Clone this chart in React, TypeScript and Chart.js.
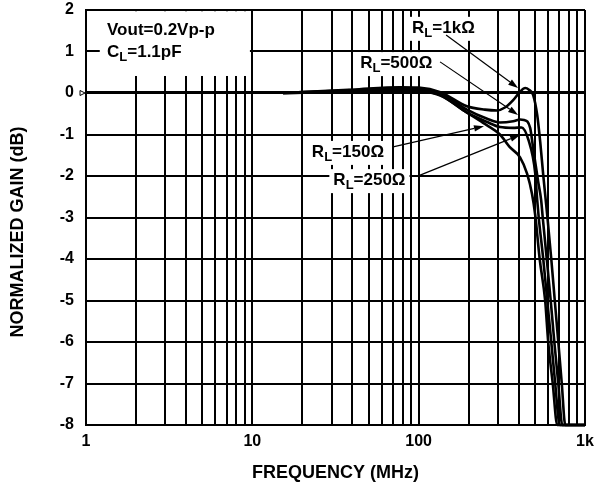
import { useEffect, useRef } from 'react';
import { Chart, registerables } from 'chart.js';

Chart.register(...registerables);

// ---------- data ----------
const xTickValues = [1, 2, 3, 4, 5, 6, 7, 8, 9, 10, 20, 30, 40, 50, 60, 70, 80, 90, 100, 200, 300, 400, 500, 600, 700, 800, 900, 1000];
const xTickLabelValues = [1, 10, 100, 1000];
const xTickLabelTexts = ['1', '10', '100', '1k'];
const yTickValues = [-8, -7, -6, -5, -4, -3, -2, -1, 0, 1, 2];

const freq1k = [15.3, 20, 40, 77, 100, 135, 195, 250, 296, 330, 370, 407, 437, 460, 488, 516, 538, 561, 593, 627, 658, 691, 725, 761, 1000];
const gain1k = [0, 0.02, 0.08, 0.14, 0.13, 0.02, -0.32, -0.40, -0.42, -0.35, -0.17, 0.03, 0.12, 0.08, -0.05, -0.53, -1.18, -1.98, -2.95, -4, -5, -6, -7, -8, -8];

const freq500 = [15.3, 20, 40, 77, 100, 135, 195, 258, 308, 370, 407, 430, 468, 488, 523, 545, 557, 589, 622, 654, 691, 730, 1000];
const gain500 = [0, 0.02, 0.07, 0.12, 0.10, 0.0, -0.40, -0.62, -0.71, -0.68, -0.64, -0.65, -0.84, -1.33, -2.14, -2.58, -3, -4, -5, -6, -7, -8, -8];

const freq250 = [15.3, 20, 40, 77, 100, 135, 195, 258, 308, 370, 415, 457, 502, 516, 527, 561, 593, 627, 662, 705, 1000];
const gain250 = [0, 0.01, 0.05, 0.08, 0.06, -0.05, -0.47, -0.70, -0.82, -0.84, -0.83, -1.13, -1.93, -2.58, -3, -4, -5, -6, -7, -8, -8];

const freq150 = [15.3, 20, 40, 77, 100, 135, 195, 244, 308, 352, 407, 449, 480, 502, 534, 576, 601, 640, 681, 1000];
const gain150 = [0, 0.01, 0.05, 0.07, 0.05, -0.06, -0.47, -0.72, -1.0, -1.30, -1.55, -1.95, -2.43, -2.94, -4, -5, -6, -7, -8, -8];

const seriesNames = ['RL=1kΩ', 'RL=500Ω', 'RL=250Ω', 'RL=150Ω'];

const xTitle = 'FREQUENCY (MHz)';
const yTitle = 'NORMALIZED GAIN (dB)';
const yTitleCenterDb = -3.35; // title is set a little below the middle of the axis

// annotation text (anchor = left/baseline in data units)
const noteTexts = [
  { pre: 'R', sub: 'L', post: '=1kΩ', f: 91.3, db: 1.45 },
  { pre: 'R', sub: 'L', post: '=500Ω', f: 44.5, db: 0.6 },
  { pre: 'R', sub: 'L', post: '=150Ω', f: 22.8, db: -1.54 },
  { pre: 'R', sub: 'L', post: '=250Ω', f: 30.7, db: -2.22 },
];
const infoLines = [
  { pre: 'Vout=0.2Vp-p', sub: '', post: '', f: 1.338, db: 1.4 },
  { pre: 'C', sub: 'L', post: '=1.1pF', f: 1.338, db: 0.87 },
];
const infoBox = { f0: 1.21, f1: 9.67, db0: 1.97, db1: 0.41 };
const arrowFrom = [[146.2, 1.4], [134.5, 0.75], [70.2, -1.3], [102, -1.98]];
const arrowTo = [[396, 0.12], [396, -0.53], [247, -0.8], [407, -1.01]];

const FONT = '"Liberation Sans", Arial, Helvetica, sans-serif';

function toPoints(fs: number[], gs: number[]) {
  return fs.map((f, i) => ({ x: f, y: gs[i] }));
}

function drawSubText(ctx: CanvasRenderingContext2D, pre: string, sub: string, post: string, x: number, b: number) {
  ctx.font = `bold 17px ${FONT}`;
  ctx.fillText(pre, x, b);
  let w = ctx.measureText(pre).width;
  if (sub) {
    ctx.font = `bold 13px ${FONT}`;
    ctx.fillText(sub, x + w, b + 4);
    w += ctx.measureText(sub).width;
  }
  if (post) {
    ctx.font = `bold 17px ${FONT}`;
    ctx.fillText(post, x + w, b);
    w += ctx.measureText(post).width;
  }
  return w;
}

function measureSubText(ctx: CanvasRenderingContext2D, pre: string, sub: string, post: string) {
  ctx.font = `bold 17px ${FONT}`;
  let w = ctx.measureText(pre).width + ctx.measureText(post).width;
  ctx.font = `bold 13px ${FONT}`;
  w += ctx.measureText(sub).width;
  return w;
}

const notesPlugin = {
  id: 'notes',
  afterDatasetsDraw(chart: any) {
    const { ctx } = chart;
    const x = chart.scales.x;
    const y = chart.scales.y;
    ctx.save();
    ctx.textAlign = 'left';
    ctx.textBaseline = 'alphabetic';

    // info box
    const bx0 = x.getPixelForValue(infoBox.f0);
    const bx1 = x.getPixelForValue(infoBox.f1);
    const by0 = y.getPixelForValue(infoBox.db0);
    const by1 = y.getPixelForValue(infoBox.db1);
    ctx.fillStyle = '#fff';
    ctx.fillRect(bx0, by0, bx1 - bx0, by1 - by0);
    ctx.fillStyle = '#000';
    infoLines.forEach((n) => {
      drawSubText(ctx, n.pre, n.sub, n.post, x.getPixelForValue(n.f), y.getPixelForValue(n.db));
    });

    // RL labels
    noteTexts.forEach((n) => {
      const px = x.getPixelForValue(n.f);
      const pb = y.getPixelForValue(n.db);
      const w = measureSubText(ctx, n.pre, n.sub, n.post);
      ctx.fillStyle = '#fff';
      ctx.fillRect(px - 4, pb - 16, w + 8, 24);
      ctx.fillStyle = '#000';
      drawSubText(ctx, n.pre, n.sub, n.post, px, pb);
    });

    // arrows
    ctx.strokeStyle = '#000';
    ctx.fillStyle = '#000';
    ctx.lineWidth = 1.2;
    arrowFrom.forEach((fr, i) => {
      const to = arrowTo[i];
      const x0 = x.getPixelForValue(fr[0]);
      const y0 = y.getPixelForValue(fr[1]);
      const x1 = x.getPixelForValue(to[0]);
      const y1 = y.getPixelForValue(to[1]);
      const a = Math.atan2(y1 - y0, x1 - x0);
      const L = 10;
      const W = 3.2;
      const bxp = x1 - L * Math.cos(a);
      const byp = y1 - L * Math.sin(a);
      ctx.beginPath();
      ctx.moveTo(x0, y0);
      ctx.lineTo(bxp, byp);
      ctx.stroke();
      ctx.beginPath();
      ctx.moveTo(x1, y1);
      ctx.lineTo(bxp + W * Math.sin(a), byp - W * Math.cos(a));
      ctx.lineTo(bxp - W * Math.sin(a), byp + W * Math.cos(a));
      ctx.closePath();
      ctx.fill();
    });

    // small marker at 0 dB on the left axis
    const zy = y.getPixelForValue(0);
    const lx = chart.chartArea.left;
    ctx.lineWidth = 1;
    ctx.beginPath();
    ctx.moveTo(lx - 6, zy - 2.5);
    ctx.lineTo(lx - 1, zy);
    ctx.lineTo(lx - 6, zy + 2.5);
    ctx.closePath();
    ctx.stroke();

    // y axis title
    ctx.font = `bold 18px ${FONT}`;
    ctx.textAlign = 'center';
    ctx.textBaseline = 'middle';
    ctx.translate(18, y.getPixelForValue(yTitleCenterDb));
    ctx.rotate(-Math.PI / 2);
    ctx.fillText(yTitle, 0, 0);
    ctx.restore();
  },
};

export default function App() {
  const ref = useRef<HTMLCanvasElement | null>(null);

  useEffect(() => {
    document.body.style.margin = '0';
    if (!ref.current) return;
    const seriesData = [
      toPoints(freq1k, gain1k),
      toPoints(freq500, gain500),
      toPoints(freq250, gain250),
      toPoints(freq150, gain150),
    ];
    const chart = new Chart(ref.current, {
      type: 'line',
      data: {
        datasets: seriesData.map((d, i) => ({
          label: seriesNames[i],
          data: d,
          borderColor: '#000',
          borderWidth: 2.6,
          pointRadius: 0,
          fill: false,
          cubicInterpolationMode: 'monotone' as const,
          clip: 6,
        })),
      },
      options: {
        animation: false,
        responsive: true,
        maintainAspectRatio: false,
        parsing: false as any,
        layout: { padding: { left: 0, top: 10, right: 17, bottom: 0 } },
        plugins: {
          legend: { display: false },
          tooltip: { enabled: false },
        },
        scales: {
          x: {
            type: 'logarithmic',
            min: 1,
            max: 1000,
            afterBuildTicks: (scale: any) => {
              scale.ticks = xTickValues.map((v) => ({ value: v }));
            },
            afterFit: (scale: any) => {
              scale.height = 68;
            },
            ticks: {
              autoSkip: false,
              maxRotation: 0,
              padding: 7,
              color: '#000',
              font: { family: FONT, size: 16, weight: 'bold' },
              callback: (v: any) => {
                const idx = xTickLabelValues.indexOf(Number(v));
                return idx >= 0 ? xTickLabelTexts[idx] : '';
              },
            },
            grid: { color: '#000', lineWidth: 2, drawTicks: false },
            border: { color: '#000', width: 2 },
            title: {
              display: true,
              text: xTitle,
              color: '#000',
              font: { family: FONT, size: 18, weight: 'bold' },
              padding: { top: 0, bottom: 9 },
            },
          },
          y: {
            type: 'linear',
            min: -8,
            max: 2,
            afterBuildTicks: (scale: any) => {
              scale.ticks = yTickValues.map((v) => ({ value: v }));
            },
            afterFit: (scale: any) => {
              scale.width = 86;
              scale.paddingTop = 0;
              scale.paddingBottom = 0;
            },
            ticks: {
              padding: 12,
              color: '#000',
              font: { family: FONT, size: 16, weight: 'bold' },
            },
            grid: {
              color: '#000',
              lineWidth: (c: any) => (c.tick && c.tick.value === 0 ? 3 : 2),
              drawTicks: false,
            },
            border: { color: '#000', width: 2 },
            title: { display: false },
          },
        },
      },
      plugins: [notesPlugin],
    });
    return () => chart.destroy();
  }, []);

  return (
    <div style={{ position: 'relative', width: 602, height: 493 }}>
      <canvas ref={ref} />
    </div>
  );
}
